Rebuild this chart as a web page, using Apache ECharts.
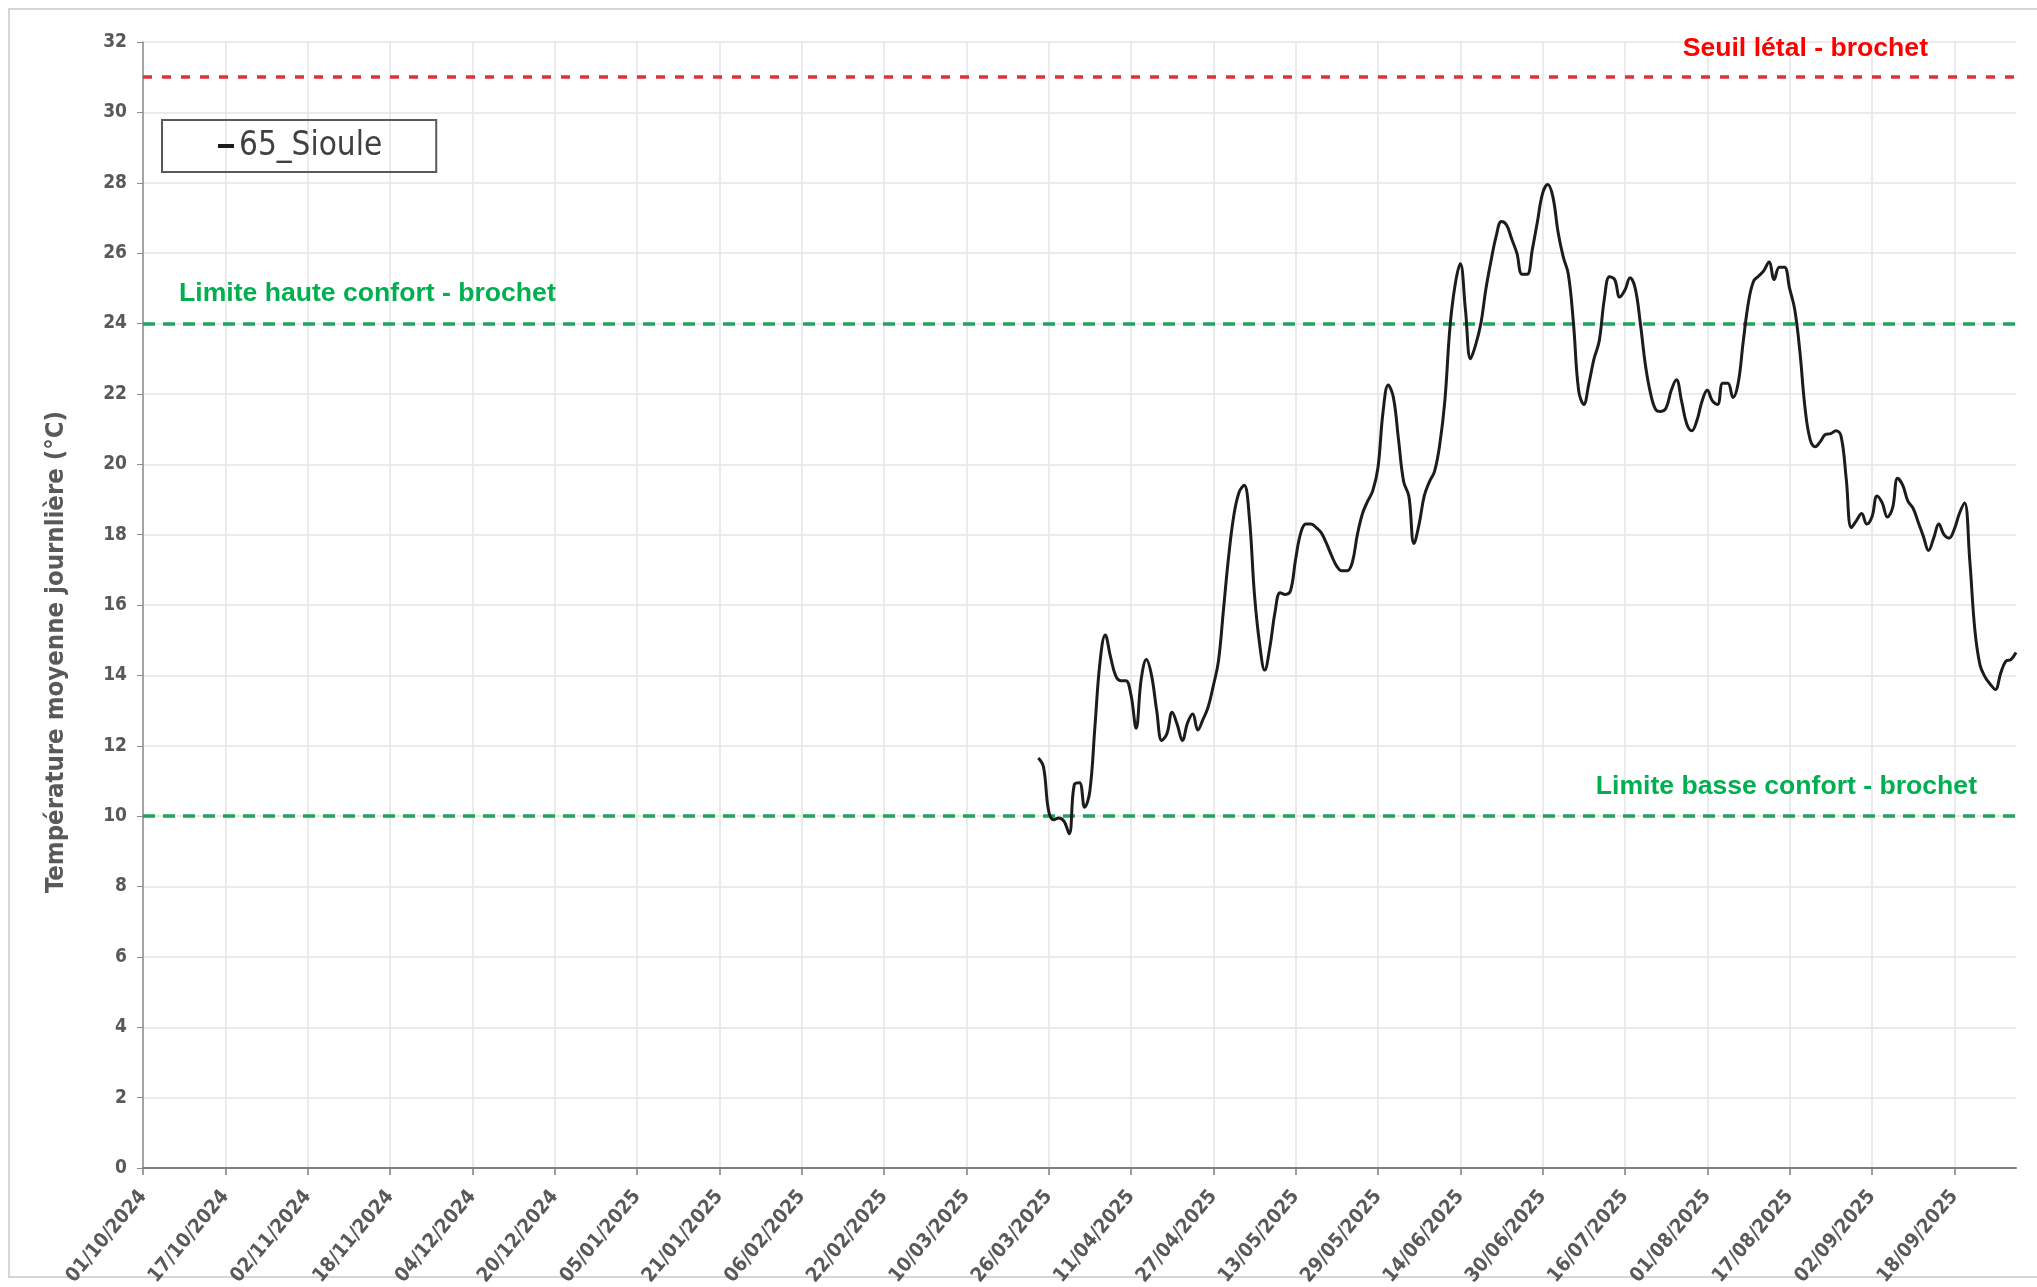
<!DOCTYPE html>
<html>
<head>
<meta charset="utf-8">
<script src="https://cdn.jsdelivr.net/npm/echarts@6/dist/echarts.min.js"></script>
<style>
  html, body { margin: 0; padding: 0; background: #ffffff; }
  #chart { width: 2037px; height: 1287px; }
</style>
</head>
<body>
<div id="chart"></div>
<script>
// Station shown in the legend
const seriesName = '65_Sioule';

// Daily category axis: one year of days starting 01/10/2024
const axisStartUTC = Date.UTC(2024, 9, 1);
const dayCount = 365;
const labelEvery = 16;           // a date label every 16 days

// Daily mean temperature (°C), first reading on 24/03/2025, last on 30/09/2025
const firstReadingUTC = Date.UTC(2025, 2, 24);
const temperature = [
  11.65, 11.4, 10.15, 9.9, 9.95, 9.85, 9.5, 10.9, 10.95, 10.25,
  10.7, 12.55, 14.4, 15.15, 14.55, 14.0, 13.85, 13.85, 13.45, 12.5,
  13.9, 14.45, 14.0, 13.0, 12.15, 12.35, 12.95, 12.6, 12.15, 12.65,
  12.9, 12.45, 12.75, 13.1, 13.7, 14.4, 15.9, 17.4, 18.55, 19.2,
  19.4, 18.5, 16.3, 14.9, 14.15, 14.8, 15.8, 16.35, 16.3, 16.4,
  17.3, 18.05, 18.3, 18.3, 18.2, 18.05, 17.75, 17.4, 17.1, 16.97,
  16.97, 17.2, 18.0, 18.6, 18.95, 19.25, 19.9, 21.5, 22.25, 21.9,
  20.7, 19.5, 19.1, 17.75, 18.3, 19.1, 19.5, 19.8, 20.55, 21.8,
  23.9, 25.1, 25.7, 24.4, 23.0, 23.4, 24.0, 25.0, 25.8, 26.5,
  26.9, 26.8, 26.4, 26.0, 25.4, 25.4, 26.1, 26.9, 27.7, 27.95,
  27.6, 26.6, 25.9, 25.4, 24.0, 22.1, 21.7, 22.3, 23.0, 23.5,
  24.7, 25.33, 25.25, 24.75, 24.95, 25.3, 25.0, 24.0, 22.8, 22.0,
  21.55, 21.5, 21.6, 22.1, 22.4, 21.8, 21.15, 20.95, 21.25, 21.8,
  22.1, 21.8, 21.7, 22.3, 22.3, 21.9, 22.3, 23.5, 24.6, 25.2,
  25.35, 25.5, 25.75, 25.25, 25.6, 25.6, 25.0, 24.4, 23.2, 21.6,
  20.7, 20.5, 20.65, 20.85, 20.87, 20.95, 20.8, 19.6, 18.2, 18.4,
  18.6, 18.3, 18.5, 19.1, 18.9, 18.5, 18.75, 19.6, 19.4, 18.95,
  18.75, 18.35, 17.95, 17.55, 17.9, 18.3, 18.0, 17.9, 18.15, 18.6,
  18.9, 17.3, 15.3, 14.3, 13.95, 13.75, 13.6, 14.05, 14.4, 14.45,
  14.65
];

// Value axis range
const yMin = 0;
const yMax = 32;
const yStep = 2;

// Pike (brochet) temperature thresholds
const thresholdNames = [
  'Seuil létal - brochet',
  'Limite haute confort - brochet',
  'Limite basse confort - brochet'
];
const thresholdValues = [31, 24, 10];

const yTitle = 'Température moyenne journlière (°C)';

// ---------------------------------------------------------------
const DAY = 86400000;
function fmtDate(t) {
  const d = new Date(t);
  const dd = String(d.getUTCDate()).padStart(2, '0');
  const mm = String(d.getUTCMonth() + 1).padStart(2, '0');
  return dd + '/' + mm + '/' + d.getUTCFullYear();
}
const days = [];
for (let i = 0; i < dayCount; i++) days.push(fmtDate(axisStartUTC + i * DAY));

const offset = Math.round((firstReadingUTC - axisStartUTC) / DAY);
const lineData = days.map((_, i) => {
  const k = i - offset;
  return (k >= 0 && k < temperature.length) ? temperature[k] : null;
});

const narrow = "'Liberation Sans Narrow', 'DejaVu Sans Condensed', 'Liberation Sans', sans-serif";
const arial = "'Liberation Sans', Arial, sans-serif";
const axisGrey = '#595959';

const thresholdStyles = [
  { color: '#e0303a', dash: [9, 10], text: '#ff0000', pos: 'insideEndTop', dist: [88, 15] },
  { color: '#21a35e', dash: [12, 8], text: '#00b050', pos: 'insideStartTop', dist: [36, 16] },
  { color: '#21a35e', dash: [12, 8], text: '#00b050', pos: 'insideEndTop', dist: [39, 16] }
];

const markLineData = thresholdValues.map((v, i) => ({
  name: thresholdNames[i],
  yAxis: v,
  lineStyle: { color: thresholdStyles[i].color, width: 3.5, type: thresholdStyles[i].dash },
  label: {
    show: true,
    position: thresholdStyles[i].pos,
    distance: thresholdStyles[i].dist,
    formatter: '{b}',
    color: thresholdStyles[i].text,
    fontFamily: arial,
    fontWeight: 'bold',
    fontSize: 26.6
  }
}));

const chart = echarts.init(document.getElementById('chart'), null, { renderer: 'canvas' });
chart.setOption({
  backgroundColor: '#ffffff',
  animation: false,
  grid: {
    left: 143, right: 21, top: 42, bottom: 119,
    containLabel: false,
    outerBoundsMode: 'none'
  },
  legend: {
    show: true,
    left: 162,
    top: 120,
    selectedMode: false,
    data: [{ name: seriesName, icon: 'rect' }],
    itemWidth: 16,
    itemHeight: 4,
    borderColor: '#595959',
    borderWidth: 2,
    padding: [6, 54, 6, 56],
    textStyle: { fontFamily: narrow, fontSize: 33, color: '#404040', lineHeight: 40 }
  },
  xAxis: {
    type: 'category',
    data: days,
    boundaryGap: false,
    axisLine: { show: true, lineStyle: { color: '#7f7f7f', width: 2 } },
    axisTick: { show: true, interval: labelEvery - 1, length: 7, lineStyle: { color: '#7f7f7f', width: 1.5 } },
    axisLabel: {
      interval: labelEvery - 1,
      rotate: 50,
      margin: 25,
      color: axisGrey,
      fontFamily: narrow,
      fontWeight: 'bold',
      fontSize: 20
    },
    splitLine: { show: true, interval: labelEvery - 1, lineStyle: { color: '#e4e4e4', width: 1.5 } }
  },
  yAxis: {
    type: 'value',
    min: yMin,
    max: yMax,
    interval: yStep,
    axisLine: { show: true, lineStyle: { color: '#8c8c8c', width: 1.5 } },
    axisTick: { show: true, length: 6, lineStyle: { color: '#8c8c8c' } },
    axisLabel: {
      margin: 16,
      color: axisGrey,
      fontFamily: narrow,
      fontWeight: 'bold',
      fontSize: 19
    },
    splitLine: { show: true, lineStyle: { color: '#e4e4e4', width: 1.5 } }
  },
  series: [{
    name: seriesName,
    type: 'line',
    data: lineData,
    connectNulls: false,
    showSymbol: false,
    smooth: 0.4,
    color: '#1c1c1c',
    lineStyle: { color: '#1c1c1c', width: 3 },
    z: 5,
    markLine: {
      silent: true,
      symbol: ['none', 'none'],
      data: markLineData
    }
  }],
  graphic: [
    {
      type: 'rect',
      z: -10,
      silent: true,
      shape: { x: 9, y: 9, width: 2100, height: 1268 },
      style: { fill: 'none', stroke: '#d6d6d6', lineWidth: 2 }
    },
    {
      type: 'text',
      x: 56,
      y: 652,
      rotation: Math.PI / 2,
      silent: true,
      style: {
        text: yTitle,
        x: 0, y: 0,
        textAlign: 'center',
        textVerticalAlign: 'middle',
        fill: axisGrey,
        font: "bold 25.5px 'Liberation Sans Narrow', 'DejaVu Sans Condensed', sans-serif"
      }
    }
  ]
});
</script>
</body>
</html>
